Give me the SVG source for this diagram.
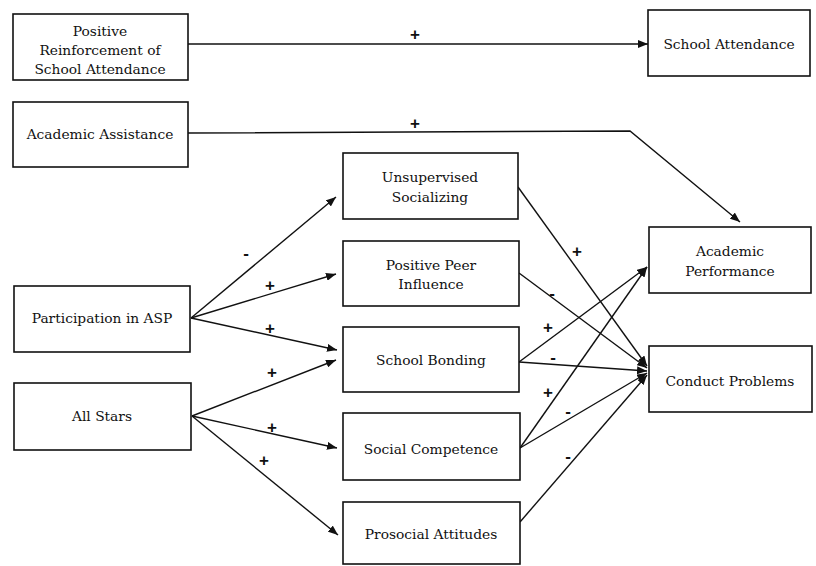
<svg xmlns="http://www.w3.org/2000/svg" width="816" height="566" viewBox="0 0 816 566">
<style>
.box{fill:#fff;stroke:#111;stroke-width:1.6}
.t{font-family:'DejaVu Serif','Liberation Serif',serif;font-size:13.8px;fill:#111;text-anchor:middle}
.s{font-family:'Liberation Sans','DejaVu Sans',sans-serif;font-size:17px;font-weight:bold;fill:#111;text-anchor:middle}
.c{fill:none;stroke:#111;stroke-width:1.4}
</style>
<defs>
<marker id="ah" viewBox="0 0 10 8" refX="10" refY="4" markerWidth="10" markerHeight="8" markerUnits="userSpaceOnUse" orient="auto">
<path d="M0,0 L10,4 L0,8 z" fill="#111"/>
</marker>
</defs>
<rect width="816" height="566" fill="#fff"/>
<g id="connectors">
<path class="c" d="M188,44 L648,44" marker-end="url(#ah)"/>
<path class="c" d="M188,133 L630,131 L740,222" marker-end="url(#ah)"/>
<path class="c" d="M191,318 L336,197" marker-end="url(#ah)"/>
<path class="c" d="M191,318 L336,274" marker-end="url(#ah)"/>
<path class="c" d="M191,318 L337,350" marker-end="url(#ah)"/>
<path class="c" d="M192,416 L336,360" marker-end="url(#ah)"/>
<path class="c" d="M192,416 L337,448" marker-end="url(#ah)"/>
<path class="c" d="M192,416 L338,535" marker-end="url(#ah)"/>
<path class="c" d="M518,187 L647,366" marker-end="url(#ah)"/>
<path class="c" d="M519,273 L647,368" marker-end="url(#ah)"/>
<path class="c" d="M519,362 L647,267" marker-end="url(#ah)"/>
<path class="c" d="M519,362 L647,371" marker-end="url(#ah)"/>
<path class="c" d="M520,448 L647,267" marker-end="url(#ah)"/>
<path class="c" d="M520,448 L647,373" marker-end="url(#ah)"/>
<path class="c" d="M520,522 L647,375" marker-end="url(#ah)"/>
<text class="s" x="415" y="40">+</text>
<text class="s" x="415" y="129">+</text>
<text class="s" x="246" y="259">-</text>
<text class="s" x="270" y="291">+</text>
<text class="s" x="270" y="334">+</text>
<text class="s" x="272" y="378">+</text>
<text class="s" x="272" y="433">+</text>
<text class="s" x="264" y="466">+</text>
<text class="s" x="577" y="257">+</text>
<text class="s" x="552" y="299">-</text>
<text class="s" x="548" y="333">+</text>
<text class="s" x="553" y="363">-</text>
<text class="s" x="548" y="398">+</text>
<text class="s" x="568" y="417">-</text>
<text class="s" x="568" y="462">-</text>
</g>
<g id="n-prsa"><rect class="box" x="13" y="14" width="175" height="66"/><text class="t" x="100" y="36">Positive</text><text class="t" x="100" y="55">Reinforcement of</text><text class="t" x="100" y="74">School Attendance</text></g>
<g id="n-aa"><rect class="box" x="13" y="102" width="175" height="65"/><text class="t" x="100" y="139">Academic Assistance</text></g>
<g id="n-sa"><rect class="box" x="648" y="10" width="162" height="66"/><text class="t" x="729" y="49">School Attendance</text></g>
<g id="n-asp"><rect class="box" x="14" y="286" width="176" height="66"/><text class="t" x="102" y="323">Participation in ASP</text></g>
<g id="n-as"><rect class="box" x="14" y="383" width="177" height="67"/><text class="t" x="102" y="421">All Stars</text></g>
<g id="n-us"><rect class="box" x="343" y="153" width="175" height="66"/><text class="t" x="430" y="182">Unsupervised</text><text class="t" x="430" y="202">Socializing</text></g>
<g id="n-ppi"><rect class="box" x="343" y="241" width="176" height="65"/><text class="t" x="431" y="270">Positive Peer</text><text class="t" x="431" y="289">Influence</text></g>
<g id="n-sb"><rect class="box" x="343" y="327" width="176" height="65"/><text class="t" x="431" y="365">School Bonding</text></g>
<g id="n-sc"><rect class="box" x="343" y="413" width="177" height="67"/><text class="t" x="431" y="454">Social Competence</text></g>
<g id="n-pa"><rect class="box" x="343" y="502" width="177" height="62"/><text class="t" x="431" y="539">Prosocial Attitudes</text></g>
<g id="n-ap"><rect class="box" x="649" y="227" width="162" height="66"/><text class="t" x="730" y="256">Academic</text><text class="t" x="730" y="276">Performance</text></g>
<g id="n-cp"><rect class="box" x="649" y="346" width="163" height="66"/><text class="t" x="730" y="386">Conduct Problems</text></g>
</svg>
